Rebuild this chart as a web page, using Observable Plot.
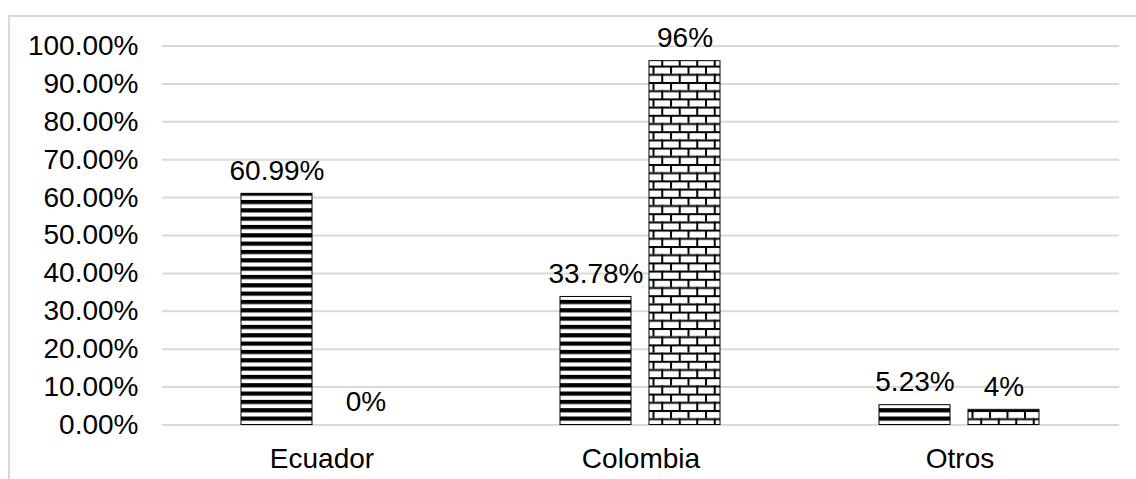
<!DOCTYPE html>
<html>
<head>
<meta charset="utf-8">
<script src="https://cdn.jsdelivr.net/npm/d3@7"></script>
<script src="https://cdn.jsdelivr.net/npm/@observablehq/plot@0.6"></script>
<style>
  html, body { margin: 0; padding: 0; background: #fff; }
  #wrap { position: relative; width: 1136px; height: 479px; overflow: hidden; }
  #frame { position: absolute; left: 8px; top: 15px; width: 1300px; height: 600px;
           border-left: 2px solid #d9d9d9; border-top: 2px solid #d9d9d9; }
  #chart { position: absolute; left: 0; top: 0; }
</style>
</head>
<body>
<div id="wrap"><div id="frame"></div><div id="chart"></div></div>
<script>
const categories = ["Ecuador", "Colombia", "Otros"];
const series = ["Serie 1", "Serie 2"];
const serie1 = [0.6099, 0.3378, 0.0523];
const serie2 = [0, 0.96, 0.04];
const yTicks = [0, 0.1, 0.2, 0.3, 0.4, 0.5, 0.6, 0.7, 0.8, 0.9, 1.0];

const fmt1 = d3.format(".2%");
const fmt2 = d3.format(".0%");

const rows = categories.flatMap((c, i) => [
  {category: c, series: series[0], value: serie1[i], label: fmt1(serie1[i])},
  {category: c, series: series[1], value: serie2[i], label: fmt2(serie2[i])}
]);

const svg = Plot.plot({
  width: 1136,
  height: 479,
  marginLeft: 161,
  marginRight: 16,
  marginTop: 45.5,
  marginBottom: 54.5,
  style: {fontFamily: "'Liberation Sans', Arial, sans-serif", fontSize: "28px", color: "black", background: "transparent"},
  fx: {domain: categories, padding: 0, axis: "bottom", label: null, tickSize: 0, tickPadding: 23},
  x: {domain: series, paddingInner: 0.2, paddingOuter: 0.876, axis: null},
  y: {domain: [0, 1], ticks: yTicks, tickFormat: fmt1, tickSize: 0, tickPadding: 24, label: null},
  marks: [
    Plot.ruleY(yTicks, {y: d => d, stroke: "#d9d9d9", strokeWidth: 2}),
    Plot.barY(rows.filter(d => d.series === series[0] && d.value > 0),
      {fx: "category", x: "series", y: "value", fill: "url(#stripes)", stroke: "black", strokeWidth: 1}),
    Plot.barY(rows.filter(d => d.series === series[1] && d.value > 0),
      {fx: "category", x: "series", y: "value", fill: "url(#bricks)", stroke: "black", strokeWidth: 1}),
    Plot.text(rows, {fx: "category", x: "series", y: "value", text: "label",
      lineAnchor: "middle", dy: -23, fill: "black", fontSize: 28})
  ]
});

const defs = d3.select(svg).insert("defs", ":first-child");
const st = defs.append("pattern").attr("id", "stripes")
  .attr("patternUnits", "userSpaceOnUse").attr("width", 8).attr("height", 8.33);
st.append("rect").attr("width", 8).attr("height", 8.33).attr("fill", "white");
st.append("rect").attr("y", 0).attr("width", 8).attr("height", 4.2).attr("fill", "black");

const bw = 17.5, bh = 8.2;
const br = defs.append("pattern").attr("id", "bricks")
  .attr("patternUnits", "userSpaceOnUse").attr("width", bw).attr("height", bh * 2);
br.append("rect").attr("width", bw).attr("height", bh * 2).attr("fill", "white");
br.append("rect").attr("x", 0).attr("y", 0).attr("width", bw).attr("height", 2).attr("fill", "black");
br.append("rect").attr("x", 0).attr("y", bh).attr("width", bw).attr("height", 2).attr("fill", "black");
br.append("rect").attr("x", 0).attr("y", 0).attr("width", 2).attr("height", bh).attr("fill", "black");
br.append("rect").attr("x", bw / 2).attr("y", bh).attr("width", 2).attr("height", bh).attr("fill", "black");

document.getElementById("chart").appendChild(svg);
</script>
</body>
</html>
